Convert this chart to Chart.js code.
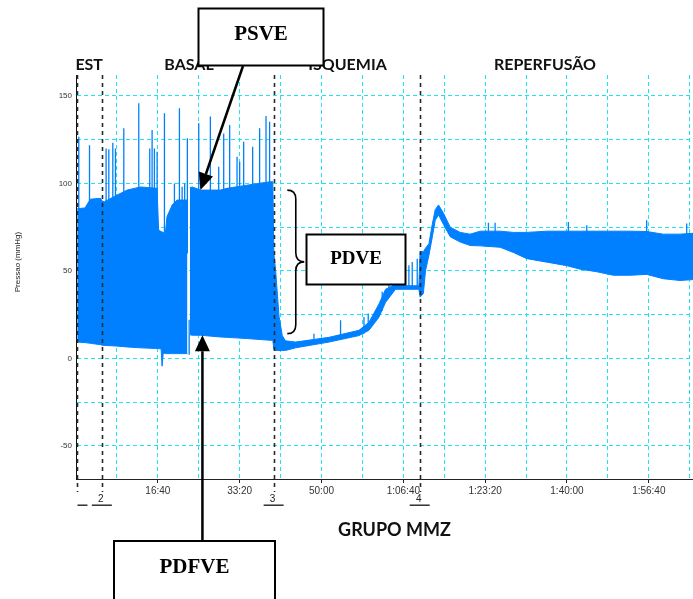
<!DOCTYPE html>
<html>
<head>
<meta charset="utf-8">
<script src="https://cdn.jsdelivr.net/npm/chart.js@4.4.1/dist/chart.umd.min.js"></script>
<style>
html,body{margin:0;padding:0;background:#fff;}
#wrap{width:693px;height:599px;position:relative;overflow:hidden;}
</style>
</head>
<body>
<div id="wrap"><canvas id="c" width="693" height="599"></canvas></div>
<script>
// ---- data (time in seconds, pressure in mmHg) ----
const timeSec = [15,110,175,300,318,345,500,625,790,990,1010,1040,1052,1066,1092,1112,1175,1235,1362,1377,1392,1420,1520,1765,1845,2090,2375,2405,
  2418,2440,2481,2521,2560,2684,3092,3458,3580,3702,3783,3905,4023,4190,
  4205,4245,4271,4313,4353,4390,4430,4491,4573,4695,4817,4939,5183,5346,5509,5753,5997,6160,6364,6567,6770,6974,7177,7381,7540];
const systolic = [85.5,86,91,91.5,90,89.5,93.3,96.2,98,97.2,73.3,72.5,72.2,72,71.6,81,87.6,90.5,90.5,null,97.5,98,96.2,96.2,97.2,99,101,101,
  60,50,24,13,10,9.3,12,16,20.6,31,39.5,42.4,41.5,41.5,
  61,61,63,65.5,76.5,85,87.7,83,75,72,71,72.7,72.7,72,72,72.7,72.7,72.7,72.7,72.7,72.7,72.5,71,71,71.5];
const diastolic = [9.3,9,8.6,7.8,7.5,7.4,7,6.5,6,5.6,5.5,5.5,-4.5,3,2.7,2.7,2.7,2.7,2.7,null,13.5,13.2,13.2,12.2,12,11.3,10.3,10.3,
  5,4.5,4.5,4.5,4.5,6,9.3,13,16,23.5,32,39.5,39.5,39.5,
  35,37,50,59,69,79,82,76.5,69.5,66.5,64.5,64.3,63.5,60.5,57,55,53,51,49.5,47.5,47.5,48,45.5,44.5,45];

const spikeTime = [34,165,368,401,450,482,584,767,901,930,958,991,1081,1203,1264,1297,1328,1361,1383,1500,1642,1744,1805,1878,1968,2000,2049,2159,2244,2322,2366,
  2908,3233,3519,3571,3742,3824,3905,4068,4109,4170,
  5040,5122,6017,6242,6974,7463];
const spikeBase = [60,60,60,60,60,60,60,60,60,60,60,60,60,60,60,60,60,60,2,60,60,60,60,60,60,60,60,60,60,60,60,
  10,11,14,17,27,35,40,40,40,40,
  70,70,70,70,70,70];
const spikePeak = [126.7,121.9,120,119.5,123.3,120,131.5,145.8,120,130.5,120,118.1,140.1,100,143,98.1,100,125.8,22,134.4,138.2,109.5,128.6,133.4,115.2,112.4,123.8,121,131.5,138.5,135.3,
  14.1,21.8,23.7,25.6,38,43.7,46.6,53.2,55.1,57,
  77.5,77.5,78,76.1,79,77.1];

const markerTime = [18,316,2415,4200];
const markerLabel = ['', '2', '3', '4'];
const phaseLabel = ['EST','BASAL','ISQUEMIA','REPERFUSÃO'];
const phaseCenter = [161,1381,3318,5731];

const xTickValues = [1000,2000,3000,4000,5000,6000,7000];
const xTickLabels = ['16:40','33:20','50:00','1:06:40','1:23:20','1:40:00','1:56:40'];
const yTickLabels = [-50,0,50,100,150];
const X_MIN = 0, X_MAX = 7540, X_GRID_STEP = 500;

// ---- styles ----
const BLUE = 'rgb(0,128,255)';
const CYAN = '#1fe3f0';

const upperPts = timeSec.map((t,i)=>({x:t, y:systolic[i]}));
const lowerPts = timeSec.map((t,i)=>({x:t, y:diastolic[i]}));
const spikePts = [];
spikeTime.forEach((t,i)=>{ spikePts.push({x:t,y:spikeBase[i]},{x:t,y:spikePeak[i]},{x:t,y:null}); });

const xGridTicks = [];
for (let v = X_MIN; v <= X_MAX; v += X_GRID_STEP) xGridTicks.push({value: v});

function arrow(ctx, x1, y1, x2, y2, len, half) {
  const ang = Math.atan2(y2-y1, x2-x1);
  const bx = x2 - len*Math.cos(ang), by = y2 - len*Math.sin(ang);
  ctx.beginPath(); ctx.moveTo(x1,y1); ctx.lineTo(bx,by); ctx.stroke();
  ctx.beginPath();
  ctx.moveTo(x2,y2);
  ctx.lineTo(bx + half*Math.sin(ang), by - half*Math.cos(ang));
  ctx.lineTo(bx - half*Math.sin(ang), by + half*Math.cos(ang));
  ctx.closePath(); ctx.fill();
}
function box(ctx, x, y, w, h, text, size, base) {
  ctx.fillStyle = '#fff'; ctx.fillRect(x, y, w, h);
  ctx.lineWidth = 2; ctx.strokeStyle = '#000'; ctx.strokeRect(x, y, w, h);
  ctx.fillStyle = '#000'; ctx.font = 'bold ' + size + 'px "Liberation Serif"';
  ctx.textAlign = 'center'; ctx.textBaseline = 'alphabetic';
  ctx.fillText(text, x + w/2, base);
}

const overlay = {
  id: 'overlay',
  afterDatasetsDraw(chart) {
    const {ctx, chartArea: a, scales: {x}} = chart;
    ctx.save();
    ctx.strokeStyle = '#2a2a2a'; ctx.lineWidth = 1.6; ctx.setLineDash([4,4]);
    markerTime.forEach(t => {
      const px = Math.round(x.getPixelForValue(t)) + 0.5;
      ctx.beginPath(); ctx.moveTo(px, a.top); ctx.lineTo(px, a.bottom + 13); ctx.stroke();
    });
    ctx.restore();
  },
  afterDraw(chart) {
    const {ctx, scales: {x, y}} = chart;
    ctx.save();
    // phase labels
    ctx.font = 'bold 16px Lato'; ctx.fillStyle = '#111';
    ctx.textAlign = 'center'; ctx.textBaseline = 'alphabetic';
    phaseLabel.forEach((s,i)=> ctx.fillText(s, x.getPixelForValue(phaseCenter[i]), 70));
    // marker labels
    ctx.font = '10px Arial'; ctx.fillStyle = '#222'; ctx.textBaseline = 'middle';
    markerTime.forEach((t,i)=>{
      const px = x.getPixelForValue(t);
      if (markerLabel[i]) { ctx.fillText(markerLabel[i], px - 1, 499); ctx.fillRect(px - 10, 504.5, 20, 1.4); }
      else ctx.fillRect(px, 504.5, 10, 1.4);
    });
    // axis titles
    ctx.save(); ctx.translate(18, 262); ctx.rotate(-Math.PI/2);
    ctx.font = '8px Arial'; ctx.fillStyle = '#222'; ctx.textAlign = 'center'; ctx.textBaseline = 'middle';
    ctx.fillText('Pressao (mmHg)', 0, 0); ctx.restore();
    ctx.font = 'bold 18px Lato'; ctx.fillStyle = '#111'; ctx.textAlign = 'center'; ctx.textBaseline = 'alphabetic';
    ctx.fillText('GRUPO MMZ', 394.5, 535.5);
    // arrows
    ctx.strokeStyle = '#000'; ctx.fillStyle = '#000'; ctx.lineWidth = 2.5; ctx.setLineDash([]);
    const t1x = x.getPixelForValue(1520), t1y = y.getPixelForValue(96.2);
    arrow(ctx, 243, 66, t1x, t1y, 17, 7.5);
    const t2x = x.getPixelForValue(1545), t2y = y.getPixelForValue(13.2);
    arrow(ctx, t2x, 545, t2x, t2y, 16, 7.5);
    // brace
    const bx = x.getPixelForValue(2582), bTop = y.getPixelForValue(96.2), bBot = y.getPixelForValue(14.1);
    const bm = (bTop + bBot)/2, sx = bx + 8.5, tip = bx + 17;
    ctx.lineWidth = 1.6; ctx.beginPath();
    ctx.moveTo(bx, bTop);
    ctx.quadraticCurveTo(sx, bTop, sx, bTop + 9);
    ctx.lineTo(sx, bm - 9);
    ctx.quadraticCurveTo(sx, bm, tip, bm);
    ctx.quadraticCurveTo(sx, bm, sx, bm + 9);
    ctx.lineTo(sx, bBot - 9);
    ctx.quadraticCurveTo(sx, bBot, bx, bBot);
    ctx.stroke();
    // boxes
    box(ctx, 198.5, 8.5, 125, 57, 'PSVE', 21, 39.5);
    box(ctx, 306.5, 234.5, 99, 50, 'PDVE', 19, 264);
    box(ctx, 114, 541, 161, 80, 'PDFVE', 21, 573);
    ctx.restore();
  }
};

new Chart(document.getElementById('c'), {
  type: 'line',
  data: {
    datasets: [
      { data: upperPts, borderColor: BLUE, backgroundColor: BLUE, borderWidth: 1, fill: '+1', pointRadius: 0, tension: 0, spanGaps: false },
      { data: lowerPts, borderColor: BLUE, backgroundColor: BLUE, borderWidth: 1, fill: false, pointRadius: 0, tension: 0, spanGaps: false },
      { data: spikePts, borderColor: BLUE, borderWidth: 1.3, fill: false, pointRadius: 0, tension: 0, spanGaps: false }
    ]
  },
  options: {
    responsive: false, animation: false, devicePixelRatio: 1,
    layout: { padding: { top: 75, left: 0, right: 0, bottom: 0 } },
    plugins: { legend: { display: false }, tooltip: { enabled: false } },
    scales: {
      x: {
        type: 'linear', min: X_MIN, max: X_MAX,
        afterFit: s => { s.height = 120; },
        afterBuildTicks: s => { s.ticks = xGridTicks.map(t => ({value: t.value})); },
        ticks: {
          autoSkip: false, maxRotation: 0, padding: 2,
          font: { size: 10, family: 'Arial' }, color: '#333',
          callback: v => { const i = xTickValues.indexOf(v); return i >= 0 ? xTickLabels[i] : ''; }
        },
        grid: {
          color: c => (c.tick && c.tick.value > 0) ? CYAN : 'transparent',
          tickColor: c => (c.tick && xTickValues.includes(c.tick.value)) ? '#222' : 'transparent',
          tickLength: 4, lineWidth: 1
        },
        border: { display: true, color: '#222', width: 1, dash: [4,3] }
      },
      y: {
        type: 'linear', min: -69, max: 162,
        afterFit: s => { s.width = 76; },
        ticks: {
          stepSize: 25, autoSkip: false, padding: 4,
          font: { size: 8, family: 'Arial' }, color: '#333',
          callback: v => yTickLabels.includes(v) ? String(v) : ''
        },
        grid: {
          color: c => (c.tick && c.tick.value % 25 === 0) ? CYAN : 'transparent',
          drawTicks: false, lineWidth: 1
        },
        border: { display: true, color: '#111', width: 1, dash: [4,3] }
      }
    }
  },
  plugins: [overlay]
});
</script>
</body>
</html>
